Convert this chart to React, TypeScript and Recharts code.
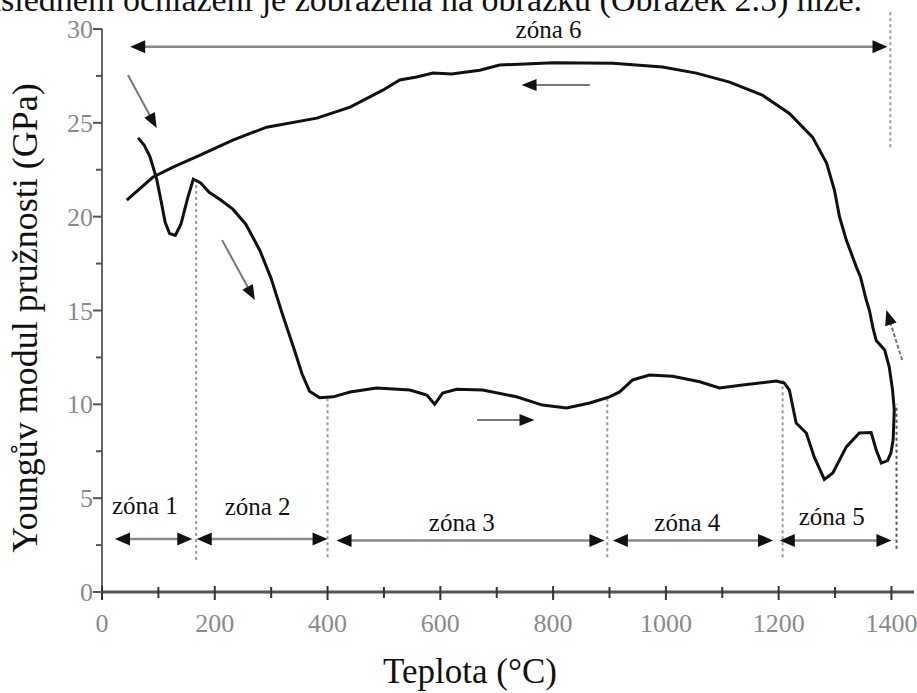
import React from "react";
import { LineChart, Line, XAxis, YAxis, ReferenceLine, ReferenceDot, Label } from "recharts";

// temperature (°C), Young's modulus (GPa)
const heating: [number, number][] = [
  [64, 24.2], [75, 23.8], [85, 23.2], [97, 22.0], [105, 20.8], [112, 19.7], [120, 19.1], [130, 19.0],
  [140, 19.6], [152, 21.0], [162, 22.0], [175, 21.8], [190, 21.3], [210, 20.9], [232, 20.4], [255, 19.6],
  [280, 18.2], [300, 16.7], [320, 14.8], [340, 13.0], [355, 11.6], [368, 10.7], [386, 10.35], [410, 10.4],
  [440, 10.66], [487, 10.87], [546, 10.76], [576, 10.5], [590, 10.0], [604, 10.6], [629, 10.8], [675, 10.76],
  [735, 10.4], [781, 9.96], [824, 9.8], [865, 10.07], [900, 10.4], [918, 10.66], [941, 11.3], [971, 11.56],
  [1012, 11.5], [1060, 11.2], [1095, 10.87], [1136, 11.03], [1196, 11.24], [1210, 11.13], [1219, 10.76],
  [1231, 9.0], [1249, 8.47], [1263, 7.2], [1281, 6.0], [1296, 6.34], [1320, 7.73], [1343, 8.47], [1364, 8.5],
  [1373, 7.57], [1382, 6.87], [1393, 7.0], [1399, 7.4], [1403, 8.1],
];

const cooling: [number, number][] = [
  [1403, 8.1], [1405, 9.7], [1402, 10.76], [1396, 12.0], [1388, 12.9], [1373, 13.4], [1367, 14.1],
  [1361, 15.0], [1355, 15.6], [1345, 16.8], [1338, 17.3], [1320, 18.75], [1308, 19.98], [1299, 21.4],
  [1285, 22.86], [1260, 24.24], [1219, 25.5], [1171, 26.48], [1113, 27.17], [1054, 27.65], [994, 27.97],
  [906, 28.18], [800, 28.2], [705, 28.08], [670, 27.8], [620, 27.6], [587, 27.65], [558, 27.44],
  [528, 27.28], [498, 26.74], [440, 25.84], [381, 25.25], [292, 24.77], [232, 24.08], [174, 23.28],
  [126, 22.64], [90, 22.1], [44, 20.88],
];

const xTicks = [0, 100, 200, 300, 400, 500, 600, 700, 800, 900, 1000, 1100, 1200, 1300, 1400];
const yTicks = [0, 2.5, 5, 7.5, 10, 12.5, 15, 17.5, 20, 22.5, 25, 27.5, 30];

const zoneNames = ["zóna 1", "zóna 2", "zóna 3", "zóna 4", "zóna 5", "zóna 6"];
const zoneFrom = [23, 168, 416, 906, 1202, 50];
const zoneTo = [160, 400, 891, 1190, 1400, 1393];
const zoneLevel = [2.82, 2.82, 2.75, 2.75, 2.75, 29.05];
const zoneLabelT = [76, 276, 638, 1038, 1294, 792];
const zoneLabelE = [4.63, 4.53, 3.68, 3.73, 4.0, 29.95];

// dotted boundary lines: temperature, bottom E, top E
const boundaryT = [167, 400, 896, 1207, 1409, 1398];
const boundaryLow = [1.7, 1.85, 1.85, 1.85, 2.3, 23.7];
const boundaryHigh = [22.0, 10.3, 10.4, 11.3, 10.0, 31.0];

// direction arrows: tail -> tip
const dirFrom: [number, number][] = [[46, 27.55], [213, 18.75], [665, 9.16], [865, 27.01], [1419, 12.36]];
const dirTo: [number, number][] = [[97, 24.72], [271, 15.56], [767, 9.16], [744, 27.01], [1391, 15.02]];

const heatData = heating.map(([t, e]) => ({ t, e }));
const coolData = cooling.map(([t, e]) => ({ t, e }));

const serif =
  "'Liberation Serif', 'Times New Roman', Tinos, 'Noto Serif', 'DejaVu Serif', FreeSerif, 'Nimbus Roman', Times, serif";

const tri = (tx: number, ty: number, ux: number, uy: number, len: number, w: number) => {
  const bx = tx - ux * len;
  const by = ty - uy * len;
  const px = -uy * w / 2;
  const py = ux * w / 2;
  return `${tx},${ty} ${bx + px},${by + py} ${bx - px},${by - py}`;
};

const arrowShape = (both: boolean, color: string, width: number, len: number, w: number, dash?: string) =>
  (p: any) => {
    const { x1, y1, x2, y2 } = p;
    const d = Math.hypot(x2 - x1, y2 - y1) || 1;
    const ux = (x2 - x1) / d;
    const uy = (y2 - y1) / d;
    const sx = both ? x1 + ux * len * 0.8 : x1;
    const sy = both ? y1 + uy * len * 0.8 : y1;
    return (
      <g>
        <line x1={sx} y1={sy} x2={x2 - ux * len * 0.8} y2={y2 - uy * len * 0.8}
          stroke={color} strokeWidth={width} strokeDasharray={dash} />
        <polygon points={tri(x2, y2, ux, uy, len, w)} fill="#111" />
        {both && <polygon points={tri(x1, y1, -ux, -uy, len, w)} fill="#111" />}
      </g>
    );
  };

const XTick = (p: any) => {
  const { x, y, payload } = p;
  const major = payload.value % 200 === 0;
  return (
    <g>
      <line x1={x} x2={x} y1={y - (major ? 6 : 5)} y2={y + (major ? 8 : 6)} stroke="#333" strokeWidth={2} />
      {major && (
        <text x={x} y={y + 40} textAnchor="middle" fontSize={26} fill="#8a8a8a" style={{ fontFamily: serif }}>
          {payload.value}
        </text>
      )}
    </g>
  );
};

const YTick = (p: any) => {
  const { x, y, payload } = p;
  const major = payload.value % 5 === 0;
  return (
    <g>
      <line x1={x - (major ? 9 : 6)} x2={x} y1={y} y2={y} stroke="#555" strokeWidth={2} />
      {major && (
        <text x={x - 9} y={y + 9} textAnchor="end" fontSize={26} fill="#8a8a8a" style={{ fontFamily: serif }}>
          {payload.value}
        </text>
      )}
    </g>
  );
};

export default function App() {
  return (
    <div style={{ position: "absolute", left: 0, top: 0, width: 917, height: 693, overflow: "hidden", background: "#fff" }}>
      <div
        style={{
          position: "absolute", left: -31, top: -17, whiteSpace: "nowrap",
          fontFamily: serif, fontSize: 34, lineHeight: "34px", color: "#111",
        }}
      >
        následném ochlazení je zobrazena na obrázku (Obrázek 2.5) níže.
      </div>
      <LineChart width={917} height={693} margin={{ top: 29, right: 3, bottom: 11, left: 42 }}>
        <XAxis
          type="number"
          dataKey="t"
          domain={[0, 1440]}
          ticks={xTicks}
          interval={0}
          tickSize={0}
          tickMargin={0}
          tick={<XTick />}
          height={90}
          axisLine={{ stroke: "#555", strokeWidth: 3 }}
        >
          <Label
            content={(p: any) => (
              <text x={p.viewBox.x + p.viewBox.width / 2 - 38} y={p.viewBox.y + 91} textAnchor="middle"
                fontSize={35} fill="#111" style={{ fontFamily: serif }}>
                Teplota (°C)
              </text>
            )}
          />
        </XAxis>
        <YAxis
          type="number"
          dataKey="e"
          domain={[0, 30]}
          ticks={yTicks}
          interval={0}
          tickSize={0}
          tickMargin={0}
          tick={<YTick />}
          width={60}
          axisLine={{ stroke: "#666", strokeWidth: 2 }}
        >
          <Label
            content={(p: any) => {
              const cx = p.viewBox.x - 5;
              const cy = p.viewBox.y + p.viewBox.height / 2 + 7.5;
              return (
                <text x={cx} y={cy} transform={`rotate(-90 ${cx} ${cy})`} textAnchor="middle"
                  fontSize={36} fill="#111" style={{ fontFamily: serif }}>
                  Youngův modul pružnosti (GPa)
                </text>
              );
            }}
          />
        </YAxis>

        {boundaryT.map((t, i) => (
          <ReferenceLine
            key={`b${i}`}
            segment={[{ x: t, y: boundaryLow[i] }, { x: t, y: boundaryHigh[i] }]}
            stroke={i === 4 ? "#555" : "#999"}
            strokeWidth={2}
            strokeDasharray="3 3"
            ifOverflow="visible"
          />
        ))}

        <Line data={heatData} dataKey="e" type="linear" stroke="#111" strokeWidth={3} dot={false} isAnimationActive={false} />
        <Line data={coolData} dataKey="e" type="linear" stroke="#111" strokeWidth={3} dot={false} isAnimationActive={false} />

        {zoneNames.map((name, i) => (
          <ReferenceLine
            key={`z${i}`}
            segment={[{ x: zoneFrom[i], y: zoneLevel[i] }, { x: zoneTo[i], y: zoneLevel[i] }]}
            ifOverflow="visible"
            shape={arrowShape(true, "#888", 2.5, 15, 13)}
          />
        ))}
        {zoneNames.map((name, i) => (
          <ReferenceDot
            key={`zl${i}`}
            x={zoneLabelT[i]}
            y={zoneLabelE[i]}
            r={0}
            ifOverflow="visible"
            shape={(p: any) => (
              <text x={p.cx} y={p.cy} textAnchor="middle" dominantBaseline="central"
                fontSize={25} fill="#111" style={{ fontFamily: serif }}>
                {name}
              </text>
            )}
          />
        ))}

        {dirFrom.map((f, i) => (
          <ReferenceLine
            key={`d${i}`}
            segment={[{ x: f[0], y: f[1] }, { x: dirTo[i][0], y: dirTo[i][1] }]}
            ifOverflow="visible"
            shape={arrowShape(false, "#777", 2, 15, 12, i === 4 ? "4 2" : undefined)}
          />
        ))}
      </LineChart>
    </div>
  );
}
